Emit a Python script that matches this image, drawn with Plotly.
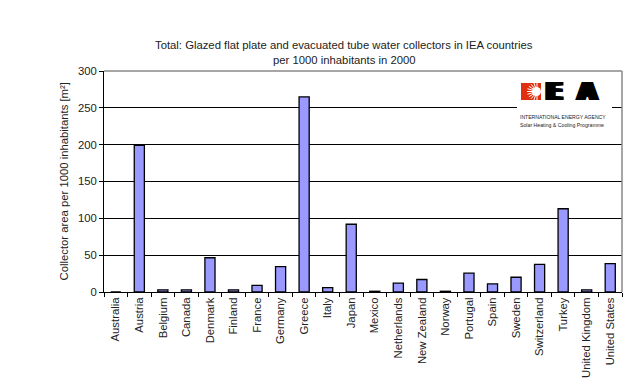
import math
import plotly.graph_objects as go

countries = ["Australia", "Austria", "Belgium", "Canada", "Denmark", "Finland", "France",
             "Germany", "Greece", "Italy", "Japan", "Mexico", "Netherlands", "New Zealand",
             "Norway", "Portugal", "Spain", "Sweden", "Switzerland", "Turkey",
             "United Kingdom", "United States"]
values = [0, 199, 3, 3, 46.5, 3, 9, 34.5, 265, 6, 92, 1, 12, 17, 1, 25.5, 11, 20, 37.5, 113, 3, 38.5]
y_ticks = [0, 50, 100, 150, 200, 250, 300]

FONT = "Liberation Sans, Arial, sans-serif"
W, H = 642, 389
L, R, T, B = 96, 28, 63, 105
PW, PH = W - L - R, H - T - B

def px(x):
    return (x - L) / PW

def py(y):
    return (H - B - y) / PH

fig = go.Figure()
fig.add_trace(go.Bar(
    x=countries, y=values,
    marker=dict(color="#9999FF", line=dict(color="#000000", width=1.3)),
    width=0.43,
))

shapes = [
    dict(type="rect", xref="paper", yref="paper", x0=px(509), x1=px(604), y0=py(126), y1=py(64.5),
         fillcolor="white", line=dict(width=0), layer="above"),
    dict(type="rect", xref="paper", yref="paper", x0=px(513), x1=px(533), y0=py(92), y1=py(75),
         fillcolor="#E03010", line=dict(width=0), layer="above"),
    dict(type="circle", xref="paper", yref="paper", x0=px(524), x1=px(533), y0=py(88), y1=py(79),
         fillcolor="white", line=dict(width=0), layer="above"),
]
cx, cy = 529, 83.5
for k in range(11):
    a = math.pi / 2 + k * math.pi / 10
    shapes.append(dict(type="line", xref="paper", yref="paper",
                       x0=px(cx), y0=py(cy),
                       x1=px(cx + 10 * math.cos(a)), y1=py(cy - 9 * math.sin(a)),
                       line=dict(color="white", width=1), layer="above"))
# gray plot frame (top / right)
shapes.append(dict(type="line", xref="paper", yref="paper", x0=0, x1=1, y0=1, y1=1,
                   line=dict(color="#888", width=1.5)))
shapes.append(dict(type="line", xref="paper", yref="paper", x0=1, x1=1, y0=0, y1=1,
                   line=dict(color="#888", width=1.5)))

bigfont = dict(family="DejaVu Sans, sans-serif", size=24, color="black",
               shadow="2px 0px 0px #000, 4px 0px 0px #000, 6px 0px 0px #000")
annotations = [
    dict(text="Total: Glazed flat plate and evacuated tube water collectors in IEA countries",
         xref="paper", yref="paper", x=px(336), y=py(37), xanchor="center", yanchor="middle",
         showarrow=False, font=dict(family=FONT, size=11.3, color="#222")),
    dict(text="per 1000 inhabitants in 2000",
         xref="paper", yref="paper", x=px(336), y=py(52), xanchor="center", yanchor="middle",
         showarrow=False, font=dict(family=FONT, size=11.3, color="#222")),
    dict(text="Collector area per 1000 inhabitants [m²]", textangle=-90,
         xref="paper", yref="paper", x=px(55), y=0.5, xanchor="center", yanchor="middle",
         showarrow=False, font=dict(family=FONT, size=11.3, color="#222")),
    dict(text="<b>E</b>", xref="paper", yref="paper", x=px(533), y=py(84),
         xanchor="left", yanchor="middle", showarrow=False, font=bigfont),
    dict(text="<b>A</b>", xref="paper", yref="paper", x=px(565), y=py(84),
         xanchor="left", yanchor="middle", showarrow=False, font=bigfont),
    dict(text="INTERNATIONAL ENERGY AGENCY", xref="paper", yref="paper", x=px(510), y=py(109),
         xanchor="left", yanchor="middle", showarrow=False,
         font=dict(family=FONT, size=5.1, color="#222")),
    dict(text="Solar Heating & Cooling Programme", xref="paper", yref="paper", x=px(510), y=py(117),
         xanchor="left", yanchor="middle", showarrow=False,
         font=dict(family=FONT, size=5.2, color="#222")),
]

fig.update_layout(
    width=W, height=H,
    margin=dict(l=L, r=R, t=T, b=B, pad=0),
    paper_bgcolor="white", plot_bgcolor="white",
    showlegend=False,
    font=dict(family=FONT, size=11, color="#222"),
    shapes=shapes,
    annotations=annotations,
    bargap=0.57,
)
fig.update_xaxes(
    type="category", tickangle=-90, tickson="boundaries",
    ticks="outside", ticklen=4, tickcolor="#000",
    showline=True, linecolor="#000", linewidth=1,
    mirror=False, showgrid=False,
    tickfont=dict(family=FONT, size=11.3, color="#222"),
)
fig.update_yaxes(
    range=[0, 300], tickvals=y_ticks,
    ticks="outside", ticklen=4, tickcolor="#000",
    showline=True, linecolor="#000", linewidth=1,
    showgrid=True, gridcolor="#000", gridwidth=1,
    zeroline=False,
    tickfont=dict(family=FONT, size=11.3, color="#222"),
)

fig.write_html("out.html")
